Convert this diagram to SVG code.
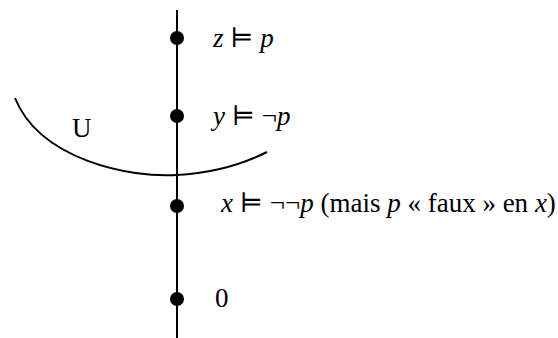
<svg xmlns="http://www.w3.org/2000/svg" width="558" height="338" viewBox="0 0 558 338">
<style>
text{font-family:"Liberation Serif","DejaVu Serif",serif;font-size:27px;fill:#000}
.i{font-style:italic}
.s{font-family:"DejaVu Serif","Liberation Serif",serif;font-size:24px}
.ln{stroke:#000;stroke-width:2;fill:none}
.dot{fill:#000}
</style>
<rect width="558" height="338" fill="#fff"/>
<g id="connectors">
<line class="ln" x1="177" y1="10" x2="177" y2="338"/>
<path id="U-arc" class="ln" d="M15,98 C40,160 130,178 177,175 C215,173 245,163 267,152"/>
</g>
<g id="z"><circle class="dot" cx="177" cy="38" r="7"/><text x="213" y="47"><tspan class="i">z</tspan> ⊨ <tspan class="i">p</tspan></text></g>
<g id="y"><circle class="dot" cx="177" cy="116" r="7"/><text x="213" y="125"><tspan class="i">y</tspan> ⊨ ¬<tspan class="i">p</tspan></text></g>
<g id="U"><text x="72" y="137">U</text></g>
<g id="x"><circle class="dot" cx="177" cy="206" r="7"/><text x="221" y="212"><tspan class="i">x</tspan> ⊨ ¬¬<tspan class="i">p</tspan> (mais <tspan class="i">p</tspan> « faux » en <tspan class="i">x</tspan>)</text></g>
<g id="zero"><circle class="dot" cx="177" cy="299" r="7"/><text x="215" y="307">0</text></g>
</svg>
